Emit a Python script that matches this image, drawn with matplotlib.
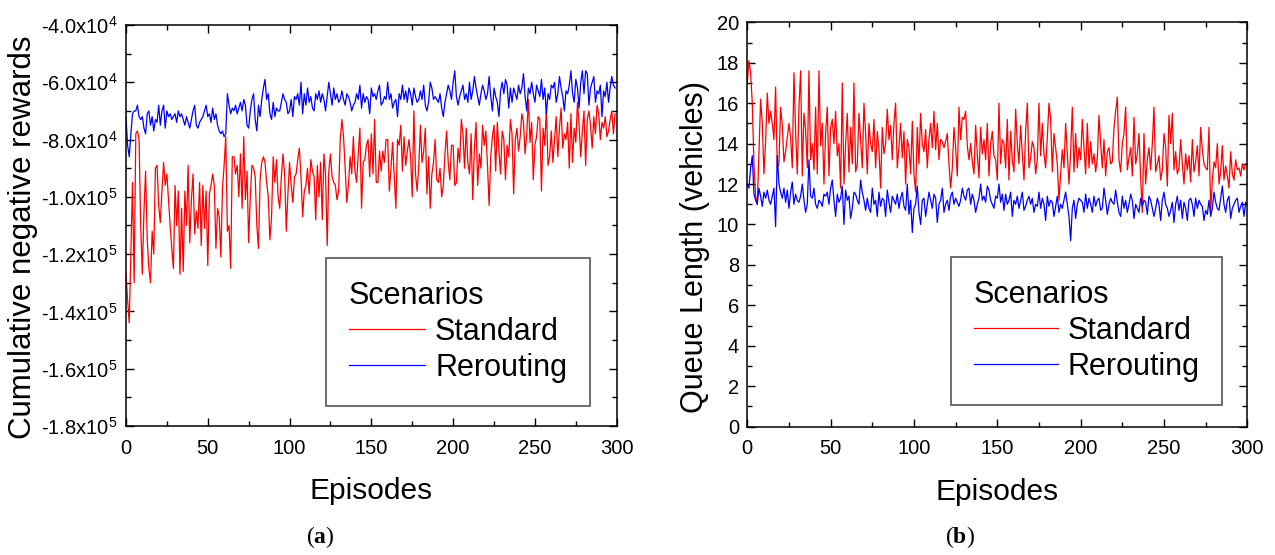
import numpy as np
import matplotlib
matplotlib.use('Agg')
import matplotlib.pyplot as plt
from matplotlib.ticker import MultipleLocator, FuncFormatter

# cumulative negative rewards, in thousands
reward_standard = [
    -127, -136, -144, -120, -95, -130, -78, -77, -80, -110, -127, -105, -91, -115, -125, -130, -112, -120, -90, -89,
    -103, -109, -98, -88, -96, -92, -101, -110, -118, -125, -96, -110, -98, -127, -104, -126, -98, -110, -89, -116,
    -101, -92, -113, -105, -111, -95, -117, -96, -111, -98, -124, -99, -96, -92, -96, -118, -104, -107, -121, -97,
    -89, -79, -112, -110, -125, -86, -86, -92, -89, -100, -85, -104, -79, -101, -91, -116, -100, -89, -90, -93,
    -110, -118, -94, -88, -86, -88, -95, -100, -115, -107, -86, -95, -87, -100, -104, -93, -85, -92, -112, -99,
    -88, -96, -102, -93, -92, -87, -83, -93, -107, -98, -96, -90, -99, -87, -91, -93, -108, -89, -100, -88,
    -108, -85, -92, -117, -91, -85, -93, -95, -96, -101, -98, -80, -73, -79, -90, -102, -96, -86, -92, -79,
    -91, -95, -85, -76, -104, -88, -87, -82, -80, -93, -78, -92, -73, -95, -95, -84, -91, -84, -88, -80,
    -80, -98, -90, -81, -93, -104, -80, -82, -75, -91, -79, -89, -84, -80, -86, -100, -70, -92, -98, -89,
    -75, -88, -84, -76, -99, -86, -104, -92, -88, -80, -94, -95, -90, -100, -96, -85, -77, -88, -94, -82,
    -82, -96, -95, -83, -88, -73, -78, -90, -76, -88, -92, -78, -101, -83, -74, -96, -85, -90, -75, -82,
    -77, -89, -103, -86, -79, -75, -91, -74, -84, -92, -77, -80, -94, -82, -86, -73, -78, -99, -80, -76,
    -84, -79, -71, -74, -85, -78, -66, -81, -74, -94, -82, -79, -72, -73, -98, -76, -82, -69, -89, -86,
    -77, -88, -80, -72, -86, -76, -69, -83, -78, -80, -74, -90, -71, -88, -76, -81, -67, -75, -86, -77,
    -70, -89, -73, -70, -75, -83, -72, -78, -68, -71, -80, -74, -76, -72, -79, -77, -73, -70, -78, -71]

reward_rerouting = [
    -72, -82, -86, -78, -71, -70, -70, -68, -72, -73, -72, -76, -78, -71, -70, -75, -72, -77, -73, -74,
    -68, -75, -70, -68, -76, -70, -72, -71, -73, -72, -71, -74, -70, -72, -71, -73, -75, -72, -74, -76,
    -73, -70, -68, -75, -76, -74, -73, -72, -70, -68, -72, -71, -74, -69, -73, -71, -75, -77, -78, -77,
    -79, -78, -64, -68, -71, -69, -70, -68, -71, -69, -67, -70, -66, -68, -75, -76, -70, -66, -64, -73,
    -77, -68, -72, -66, -62, -59, -66, -64, -71, -73, -67, -72, -69, -70, -70, -67, -64, -66, -67, -71,
    -70, -66, -72, -65, -66, -64, -68, -60, -71, -64, -68, -62, -67, -65, -69, -70, -64, -66, -63, -67,
    -64, -66, -70, -65, -60, -64, -68, -62, -66, -64, -67, -66, -63, -66, -68, -64, -65, -67, -70, -68,
    -67, -64, -66, -61, -69, -64, -67, -65, -66, -71, -62, -65, -64, -66, -63, -61, -68, -67, -65, -66,
    -60, -66, -64, -69, -67, -66, -72, -64, -66, -61, -66, -63, -67, -62, -64, -68, -62, -65, -67, -66,
    -63, -66, -61, -68, -70, -67, -60, -62, -66, -65, -66, -67, -64, -69, -72, -67, -64, -61, -63, -66,
    -60, -56, -65, -68, -65, -63, -61, -66, -64, -67, -60, -66, -63, -58, -62, -65, -68, -64, -61, -63,
    -66, -64, -58, -65, -70, -62, -65, -67, -72, -63, -60, -64, -59, -61, -69, -62, -67, -62, -64, -66,
    -61, -64, -62, -57, -65, -70, -62, -64, -60, -64, -67, -61, -63, -65, -59, -66, -62, -71, -64, -66,
    -61, -62, -60, -67, -64, -58, -62, -65, -70, -63, -64, -61, -56, -64, -67, -59, -62, -69, -60, -56,
    -64, -56, -57, -68, -62, -60, -58, -67, -63, -64, -61, -72, -63, -65, -60, -67, -62, -58, -61, -62]

# queue length, in tenths of a vehicle
queue_standard = [
    170, 181, 175, 160, 130, 114, 110, 135, 162, 150, 125, 141, 165, 150, 156, 150, 142, 168, 128, 130,
    158, 149, 131, 136, 143, 150, 143, 128, 175, 146, 125, 158, 176, 124, 155, 147, 128, 176, 132, 140,
    127, 158, 125, 176, 139, 150, 120, 145, 158, 124, 148, 152, 140, 156, 134, 140, 118, 170, 120, 140,
    155, 126, 148, 130, 170, 126, 130, 155, 142, 128, 160, 145, 125, 150, 140, 136, 152, 128, 146, 137,
    118, 148, 135, 140, 157, 142, 149, 132, 150, 160, 128, 138, 150, 133, 146, 120, 142, 138, 125, 151,
    125, 116, 148, 130, 155, 140, 136, 147, 128, 142, 150, 138, 156, 137, 150, 132, 142, 141, 138, 141,
    145, 130, 118, 128, 148, 138, 124, 158, 142, 153, 152, 156, 139, 132, 140, 131, 125, 149, 135, 123,
    148, 135, 142, 132, 150, 124, 140, 146, 134, 132, 122, 160, 130, 142, 140, 128, 152, 122, 146, 132,
    126, 157, 140, 130, 149, 135, 122, 146, 160, 128, 133, 141, 138, 125, 132, 160, 134, 150, 135, 128,
    143, 160, 152, 126, 145, 138, 130, 112, 125, 137, 128, 150, 135, 120, 136, 158, 126, 145, 128, 138,
    132, 152, 138, 125, 150, 128, 141, 130, 135, 126, 133, 154, 140, 128, 142, 124, 136, 138, 130, 131,
    148, 156, 163, 132, 126, 140, 145, 158, 127, 133, 138, 124, 153, 130, 135, 145, 123, 106, 145, 120,
    132, 138, 127, 140, 158, 126, 130, 134, 122, 127, 145, 138, 119, 154, 140, 155, 127, 136, 125, 128,
    142, 130, 120, 135, 127, 134, 121, 142, 126, 131, 139, 124, 148, 137, 130, 128, 127, 148, 106, 122,
    131, 128, 140, 120, 126, 139, 122, 129, 124, 118, 136, 125, 122, 132, 127, 128, 124, 130, 127, 130]

queue_rerouting = [
    120, 118, 128, 134, 115, 112, 110, 118, 114, 109, 116, 113, 117, 112, 110, 114, 118, 99, 134, 120,
    116, 113, 118, 111, 117, 108, 116, 121, 110, 115, 112, 111, 114, 120, 112, 106, 110, 132, 114, 113,
    118, 110, 108, 112, 111, 109, 115, 114, 116, 110, 118, 122, 112, 104, 115, 111, 113, 119, 100, 117,
    112, 114, 103, 108, 116, 115, 112, 110, 122, 116, 112, 107, 113, 108, 106, 118, 110, 112, 104, 116,
    109, 113, 112, 104, 117, 111, 106, 114, 112, 110, 115, 108, 113, 116, 109, 107, 120, 105, 112, 96,
    108, 110, 119, 106, 100, 112, 113, 104, 110, 116, 112, 108, 115, 113, 101, 110, 112, 118, 106, 110,
    112, 107, 114, 116, 110, 113, 111, 109, 112, 118, 114, 112, 117, 118, 110, 115, 112, 106, 110, 113,
    120, 112, 114, 111, 119, 117, 112, 110, 108, 114, 113, 120, 111, 115, 107, 115, 110, 112, 116, 104,
    112, 110, 114, 108, 112, 116, 107, 109, 112, 114, 110, 113, 106, 110, 109, 116, 108, 113, 110, 102,
    114, 109, 112, 111, 104, 109, 114, 106, 110, 108, 112, 116, 110, 104, 92, 108, 112, 103, 110, 113,
    112, 111, 106, 115, 108, 113, 110, 106, 114, 109, 112, 113, 107, 108, 118, 112, 105, 110, 113, 111,
    110, 117, 111, 106, 104, 114, 108, 112, 106, 110, 115, 112, 103, 110, 108, 106, 113, 109, 112, 111,
    105, 114, 112, 108, 104, 108, 113, 110, 102, 112, 116, 110, 108, 104, 107, 111, 101, 110, 114, 107,
    112, 103, 111, 108, 102, 112, 113, 110, 104, 113, 108, 112, 110, 109, 102, 107, 105, 112, 104, 108,
    116, 111, 108, 107, 113, 119, 110, 106, 112, 114, 103, 108, 110, 112, 113, 106, 109, 111, 104, 111]

series_names = ['Standard', 'Rerouting']
series_colors = ['#ff0000', '#0000ff']


def sci_label(v, pos):
    if v == 0:
        return '0'
    e = int(np.floor(np.log10(abs(v)) + 1e-9))
    m = v / 10.0 ** e
    return r'%.1fx10$^{%d}$' % (m, e)


def style_axes(ax):
    ax.tick_params(which='both', direction='in', top=True, right=True, labelsize=14.5, width=1.0)
    ax.tick_params(which='major', length=6)
    ax.tick_params(which='minor', length=3.5)
    ax.tick_params(axis='x', which='major', pad=9)
    ax.tick_params(axis='y', which='major', pad=6)
    ax.xaxis.set_major_locator(MultipleLocator(50))
    ax.xaxis.set_minor_locator(MultipleLocator(25))
    ax.set_xlim(0, 300)
    for sp in ax.spines.values():
        sp.set_linewidth(1.1)
    ax.set_xlabel('Episodes', fontsize=21.5, labelpad=14)


def add_legend(ax, x0, y0, hlen):
    leg = ax.legend(loc='upper left', bbox_to_anchor=(x0, y0), title='Scenarios',
                    fontsize=22, title_fontsize=22, alignment='left', fancybox=False,
                    edgecolor='#555555', framealpha=1, handlelength=hlen, handletextpad=0.32,
                    borderpad=0.75, labelspacing=0.2, borderaxespad=0)
    leg.get_frame().set_linewidth(1.2)
    return leg


def main():
    plt.rcParams['font.family'] = 'Liberation Sans'
    plt.rcParams['mathtext.fontset'] = 'custom'
    plt.rcParams['mathtext.rm'] = 'Liberation Sans'
    plt.rcParams['mathtext.bf'] = 'Liberation Serif:bold'

    fig = plt.figure(figsize=(12.75, 5.55), dpi=100)
    ax1 = fig.add_axes([0.0988, 0.2324, 0.3849, 0.7226])
    ax2 = fig.add_axes([0.5861, 0.2312, 0.3922, 0.7286])

    # (a) rewards
    ep = np.arange(len(reward_standard))
    ax1.plot(ep, np.array(reward_standard) * 1000.0, color=series_colors[0], lw=0.9, label=series_names[0])
    ep = np.arange(len(reward_rerouting))
    ax1.plot(ep, np.array(reward_rerouting) * 1000.0, color=series_colors[1], lw=0.9, label=series_names[1])
    style_axes(ax1)
    ax1.set_ylim(-180000, -40000)
    ax1.yaxis.set_major_locator(MultipleLocator(20000))
    ax1.yaxis.set_minor_locator(MultipleLocator(10000))
    ax1.yaxis.set_major_formatter(FuncFormatter(sci_label))
    ax1.set_ylabel('Cumulative negative rewards', fontsize=22.5)
    ax1.yaxis.set_label_coords(-0.18, 0.471)
    add_legend(ax1, 0.4076, 0.419, 2.5)

    # (b) queue length
    ep = np.arange(len(queue_standard))
    ax2.plot(ep, np.array(queue_standard) / 10.0, color=series_colors[0], lw=0.9, label=series_names[0])
    ep = np.arange(len(queue_rerouting))
    ax2.plot(ep, np.array(queue_rerouting) / 10.0, color=series_colors[1], lw=0.9, label=series_names[1])
    style_axes(ax2)
    ax2.set_ylim(0, 20)
    ax2.yaxis.set_major_locator(MultipleLocator(2))
    ax2.yaxis.set_minor_locator(MultipleLocator(1))
    ax2.set_ylabel('Queue Length (vehicles)', fontsize=22)
    ax2.yaxis.set_label_coords(-0.074, 0.445)
    add_legend(ax2, 0.407, 0.4196, 2.75)

    fig.text(0.251, 0.032, r'($\mathbf{a}$)', fontsize=17, family='Liberation Serif', ha='center', va='center')
    fig.text(0.753, 0.032, r'($\mathbf{b}$)', fontsize=17, family='Liberation Serif', ha='center', va='center')

    fig.savefig('out.png', dpi=100)


if __name__ == '__main__':
    main()
